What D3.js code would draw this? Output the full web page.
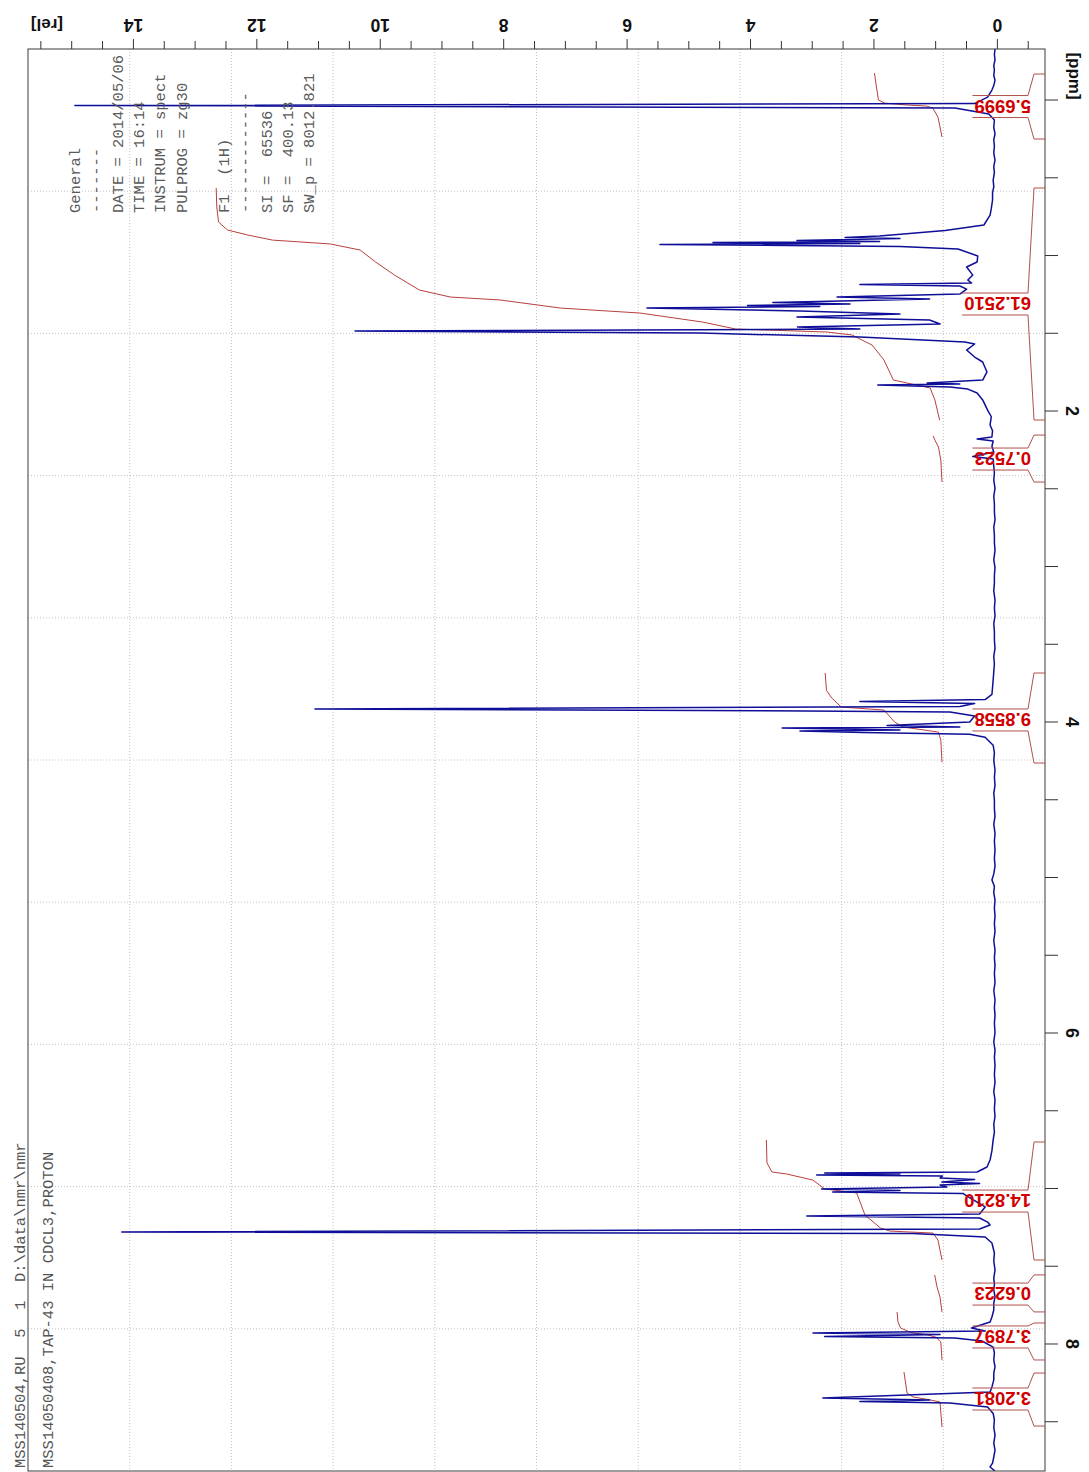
<!DOCTYPE html>
<html><head><meta charset="utf-8">
<script src="https://cdn.jsdelivr.net/npm/d3@7"></script>
<style>body{margin:0;background:#fff} svg{display:block}</style>
</head><body>
<svg id="c" width="1089" height="1472"></svg>
<script>
// ---------------- data ----------------
const relLabels = [0,2,4,6,8,10,12,14];
const ppmLabels = [2,4,6,8];
const relMinor = d3.range(-0.5, 15.51, 0.5);
const ppmMinor = d3.range(0, 8.51, 0.5);

// spectrum: [ppm, relative intensity]
const spectrum = [
[-0.325,0.03],[-0.290,0.04],[-0.254,0.03],[-0.220,0.05],[-0.190,0.04],[-0.155,0.05],[-0.125,0.03],[-0.090,0.05],[-0.061,0.08],[-0.016,0.15],[0.026,0.36],[0.039,14.94],[0.055,0.68],[0.093,0.13],[0.132,0.04],[0.180,0.05],[0.220,0.03],[0.260,0.05],[0.300,0.04],[0.345,0.05],[0.389,0.03],[0.430,0.05],[0.470,0.04],[0.518,0.06],[0.560,0.05],[0.600,0.07],[0.646,0.07],[0.700,0.09],[0.743,0.11],[0.807,0.21],[0.842,0.84],[0.878,1.90],[0.887,2.46],[0.894,1.57],[0.907,3.24],[0.913,1.90],[0.920,4.60],[0.926,2.22],[0.932,5.46],[0.945,1.57],[0.961,0.63],[1.006,0.31],[1.045,0.32],[1.077,0.49],[1.129,0.39],[1.161,0.47],[1.180,0.41],[1.190,2.22],[1.199,0.60],[1.219,0.49],[1.251,0.60],[1.270,2.59],[1.283,1.09],[1.305,3.63],[1.315,2.38],[1.325,4.04],[1.331,2.87],[1.341,5.67],[1.360,3.19],[1.379,1.57],[1.399,3.24],[1.418,1.09],[1.444,0.92],[1.463,3.23],[1.476,2.22],[1.489,10.40],[1.502,4.81],[1.527,2.22],[1.559,0.52],[1.572,0.36],[1.611,0.49],[1.656,0.36],[1.688,0.23],[1.752,0.16],[1.804,0.23],[1.823,1.13],[1.830,0.60],[1.836,1.93],[1.849,0.76],[1.862,0.47],[1.887,0.32],[1.932,0.23],[1.997,0.15],[2.040,0.09],[2.093,0.11],[2.130,0.07],[2.170,0.08],[2.183,0.32],[2.196,0.06],[2.230,0.08],[2.267,0.05],[2.296,0.39],[2.312,0.06],[2.360,0.05],[2.400,0.04],[2.447,0.05],[2.500,0.03],[2.550,0.05],[2.600,0.04],[2.650,0.04],[2.704,0.03],[2.750,0.05],[2.800,0.04],[2.850,0.04],[2.900,0.03],[2.961,0.05],[3.010,0.03],[3.060,0.04],[3.110,0.04],[3.160,0.05],[3.219,0.03],[3.270,0.04],[3.320,0.03],[3.370,0.05],[3.420,0.04],[3.476,0.04],[3.530,0.03],[3.580,0.05],[3.630,0.04],[3.680,0.05],[3.733,0.06],[3.826,0.08],[3.859,0.19],[3.871,2.22],[3.884,0.36],[3.904,0.60],[3.920,11.05],[3.932,3.10],[3.939,0.76],[3.965,0.36],[4.003,0.44],[4.026,1.78],[4.035,0.60],[4.042,3.48],[4.055,1.57],[4.061,3.19],[4.071,2.17],[4.082,0.44],[4.101,0.19],[4.153,0.06],[4.200,0.04],[4.250,0.05],[4.312,0.03],[4.360,0.04],[4.410,0.03],[4.460,0.05],[4.505,0.04],[4.560,0.04],[4.610,0.03],[4.660,0.05],[4.720,0.03],[4.770,0.04],[4.826,0.03],[4.880,0.04],[4.930,0.03],[4.980,0.05],[5.019,0.08],[5.060,0.04],[5.100,0.05],[5.148,0.03],[5.200,0.04],[5.250,0.03],[5.300,0.04],[5.350,0.03],[5.410,0.05],[5.470,0.03],[5.520,0.04],[5.570,0.03],[5.620,0.04],[5.680,0.03],[5.730,0.05],[5.791,0.03],[5.840,0.04],[5.890,0.03],[5.940,0.04],[6.000,0.03],[6.060,0.05],[6.113,0.03],[6.160,0.04],[6.210,0.03],[6.270,0.04],[6.320,0.03],[6.380,0.05],[6.434,0.03],[6.490,0.04],[6.540,0.03],[6.590,0.05],[6.640,0.04],[6.691,0.06],[6.760,0.08],[6.820,0.11],[6.865,0.16],[6.897,0.32],[6.904,2.79],[6.910,1.57],[6.917,2.92],[6.923,0.88],[6.936,0.92],[6.945,0.36],[6.962,0.89],[6.971,0.28],[6.981,0.92],[6.994,0.81],[7.006,2.84],[7.016,1.57],[7.026,2.66],[7.035,0.55],[7.051,0.49],[7.122,0.19],[7.167,0.28],[7.180,3.08],[7.193,0.28],[7.219,0.15],[7.238,0.11],[7.264,0.28],[7.283,14.18],[7.293,1.36],[7.315,0.19],[7.354,0.08],[7.418,0.04],[7.470,0.05],[7.527,0.03],[7.580,0.05],[7.620,0.04],[7.656,0.05],[7.700,0.03],[7.740,0.05],[7.785,0.05],[7.830,0.08],[7.862,0.11],[7.900,0.41],[7.920,0.19],[7.932,2.98],[7.942,0.92],[7.955,2.79],[7.965,0.68],[7.984,0.24],[8.023,0.06],[8.060,0.04],[8.106,0.05],[8.150,0.03],[8.190,0.05],[8.234,0.05],[8.280,0.08],[8.312,0.11],[8.350,2.82],[8.363,1.09],[8.373,2.22],[8.383,0.76],[8.408,0.15],[8.450,0.06],[8.492,0.04],[8.540,0.05],[8.590,0.03],[8.640,0.05],[8.685,0.03],[8.730,0.05],[8.769,0.07],[8.794,0.11],[8.820,0.03]
];

// integrals
const integralValues = ["5.6999","61.2510","0.7523","9.8558","14.8210","0.6223","3.7897","3.2081"];
const integralRegions = [[-0.164,0.254],[0.569,2.061],[2.158,2.460],[3.688,4.267],[6.704,7.463],[7.559,7.797],[7.868,8.106],[8.190,8.531]];
const integralLabelPpm = [0.045,1.315,2.312,3.990,7.084,7.682,7.958,8.357];
// integral curves: [ppm, cumulative integral]
const integralCurves = [
 [[-0.170,5.70],[-0.080,5.53],[0.003,5.36],[0.023,4.85],[0.035,3.0],[0.042,1.3],[0.055,0.78],[0.113,0.34],[0.241,0]],
 [[0.569,61.25],[0.691,61.2],[0.788,61.05],[0.839,60.3],[0.871,58.6],[0.904,56.5],[0.929,51.6],[0.968,49.1],[1.045,47.8],[1.129,46.2],[1.225,44.1],[1.270,41.5],[1.289,37.3],[1.341,32.2],[1.373,25.5],[1.431,20.2],[1.476,17.4],[1.495,9.7],[1.514,7.6],[1.579,5.9],[1.675,4.9],[1.804,4.1],[1.855,1.0],[1.932,0.6],[2.061,0.2]],
 [[2.164,0.75],[2.190,0.6],[2.235,0.3],[2.318,0.1],[2.460,0]],
 [[3.688,9.86],[3.80,9.75],[3.849,9.3],[3.907,8.5],[3.926,4.9],[4.003,4.0],[4.035,3.3],[4.068,0.3],[4.12,0.1],[4.262,0]],
 [[6.691,14.82],[6.839,14.77],[6.897,14.35],[6.910,13.1],[6.949,10.9],[7.006,9.9],[7.032,7.2],[7.174,6.5],[7.257,5.2],[7.277,4.4],[7.290,0.76],[7.335,0.34],[7.463,0]],
 [[7.559,0.62],[7.636,0.42],[7.701,0.17],[7.797,0]],
 [[7.797,3.79],[7.86,3.72],[7.90,3.5],[7.93,2.6],[7.945,1.2],[7.96,0.5],[7.99,0.1],[8.106,0]],
 [[8.183,3.21],[8.318,2.95],[8.344,2.45],[8.36,1.2],[8.376,0.17],[8.537,0]]
];

const infoLines = ["General","-------","DATE = 2014/05/06","TIME = 16:14","INSTRUM = spect","PULPROG = zg30","","F1  (1H)","-------------","SI =  65536","SF =  400.13","SW_p = 8012.821"];
const headerLines = ["MSS140504,RU  5  1  D:\\data\\nmr\\nmr","MSS14050408,TAP-43 IN CDCL3,PROTON"];

// ---------------- layout ----------------
const svg = d3.select("#c");
const L = 28, T = 49, R = 1045, B = 1471;
const x = d3.scaleLinear().domain([15.7, -0.78]).range([L, R]);      // rel intensity
const y = d3.scaleLinear().domain([-0.325, 8.82]).range([T, B]);     // ppm
const xi = d3.scaleLinear().domain([0, 1]).range([942, 942 - 11.85]); // integral scale
const sans = "Liberation Sans, Arial, sans-serif";

svg.append("rect").attr("width",1089).attr("height",1472).attr("fill","#fff");

// grid (10 x 10 divisions of the frame)
const grid = svg.append("g").attr("stroke","#c4c4c4").attr("stroke-width",1).attr("stroke-dasharray","1,2");
d3.range(1,10).forEach(k=>{
  const gx = L + k*(R-L)/10, gy = T + k*(B-T)/10;
  grid.append("line").attr("x1",gx).attr("x2",gx).attr("y1",T).attr("y2",B);
  grid.append("line").attr("x1",L).attr("x2",R).attr("y1",gy).attr("y2",gy);
});

svg.append("clipPath").attr("id","clip").append("rect").attr("x",L).attr("y",T).attr("width",R-L).attr("height",B-T);

// integral curves
const iline = d3.line().x(d=>xi(d[1])).y(d=>y(d[0]));
svg.append("g").attr("clip-path","url(#clip)").selectAll("path").data(integralCurves).join("path")
  .attr("d", iline).attr("fill","none").attr("stroke","#b8403c").attr("stroke-width",1);

// spectrum
const sline = d3.line().x(d=>x(d[1])).y(d=>y(d[0]));
svg.append("path").datum(spectrum).attr("clip-path","url(#clip)")
  .attr("d", sline).attr("fill","none").attr("stroke","#0e0e98").attr("stroke-width",1.5).attr("stroke-linejoin","round");

// frame
svg.append("rect").attr("x",L).attr("y",T).attr("width",R-L).attr("height",B-T)
  .attr("fill","none").attr("stroke","#3a3a3a").attr("stroke-width",1);

// rel axis (top)
const relAxis = d3.axisTop(x).tickValues(relMinor).tickSize(8).tickSizeOuter(0)
  .tickFormat(d => relLabels.includes(d) ? d3.format("d")(d) : "");
const ga = svg.append("g").attr("transform",`translate(0,${T})`).call(relAxis);
ga.select(".domain").remove();
ga.selectAll(".tick line").attr("stroke","#333").attr("y2", d => relLabels.includes(d) ? -10 : -8);
ga.selectAll(".tick text").attr("y",-24).attr("dy","0.36em")
  .attr("transform","rotate(180,0,-24)")
  .attr("font-family",sans).attr("font-weight","bold").attr("font-size",17.5).attr("fill","#111");

// ppm axis (right)
const ppmAxis = d3.axisRight(y).tickValues(ppmMinor).tickSize(13).tickSizeOuter(0)
  .tickFormat(d => ppmLabels.includes(d) ? d3.format("d")(d) : "");
const gp = svg.append("g").attr("transform",`translate(${R},0)`).call(ppmAxis);
gp.select(".domain").remove();
gp.selectAll(".tick line").attr("stroke","#333");
gp.selectAll(".tick text").attr("x",27).attr("dy","0.36em").attr("text-anchor","middle")
  .attr("transform","rotate(90,27,0)")
  .attr("font-family",sans).attr("font-weight","bold").attr("font-size",18).attr("fill","#111");

// axis unit labels
svg.append("text").attr("x",47).attr("y",25).attr("dy","0.36em").attr("text-anchor","middle")
  .attr("transform","rotate(180,47,25)").attr("font-family",sans)
  .attr("font-weight","bold").attr("font-size",17).attr("fill","#111").text("[rel]");
svg.append("text").attr("x",1075).attr("y",76).attr("dy","0.36em").attr("text-anchor","middle")
  .attr("transform","rotate(90,1075,76)").attr("font-family",sans)
  .attr("font-weight","bold").attr("font-size",17).attr("fill","#111").text("[ppm]");

// integral labels and brackets
const ig = svg.append("g");
integralValues.forEach((v,i)=>{
  const yc = y(integralLabelPpm[i]);
  const t = ig.append("text").attr("x",1031).attr("y",yc).attr("dy","0.36em")
    .attr("transform",`rotate(180,1031,${yc})`)
    .attr("font-family",sans).attr("font-weight","bold")
    .attr("font-size",18.5).attr("fill","#d00000").text(v);
  const len = t.node().getComputedTextLength();
  const xl = 1031 - len - 2;
  const y0 = y(integralRegions[i][0]), y1 = y(integralRegions[i][1]);
  const bt = yc - 11, bb = yc + 11;
  ig.append("path").attr("d",`M${R},${y0}H1034L1028,${bt}H${xl}M${xl},${bb}H1028L1034,${y1}H${R}`)
    .attr("fill","none").attr("stroke","#b0504c").attr("stroke-width",1);
});

// parameter text block
const mono = "Liberation Mono, Courier New, monospace";
svg.append("g").selectAll("text").data(infoLines).join("text")
  .attr("xml:space","preserve").style("white-space","pre")
  .attr("transform",(d,i)=>`translate(${80 + i*21.3},213) rotate(-90)`)
  .attr("font-family",mono).attr("font-size",15.5).attr("fill","#5a5a5a").text(d=>d);

svg.append("g").selectAll("text").data(headerLines).join("text")
  .attr("xml:space","preserve").style("white-space","pre")
  .attr("transform",(d,i)=>`translate(${25 + i*28},1468) rotate(-90)`)
  .attr("font-family",mono).attr("font-size",15.5).attr("fill","#555").text(d=>d);
</script>
</body></html>
